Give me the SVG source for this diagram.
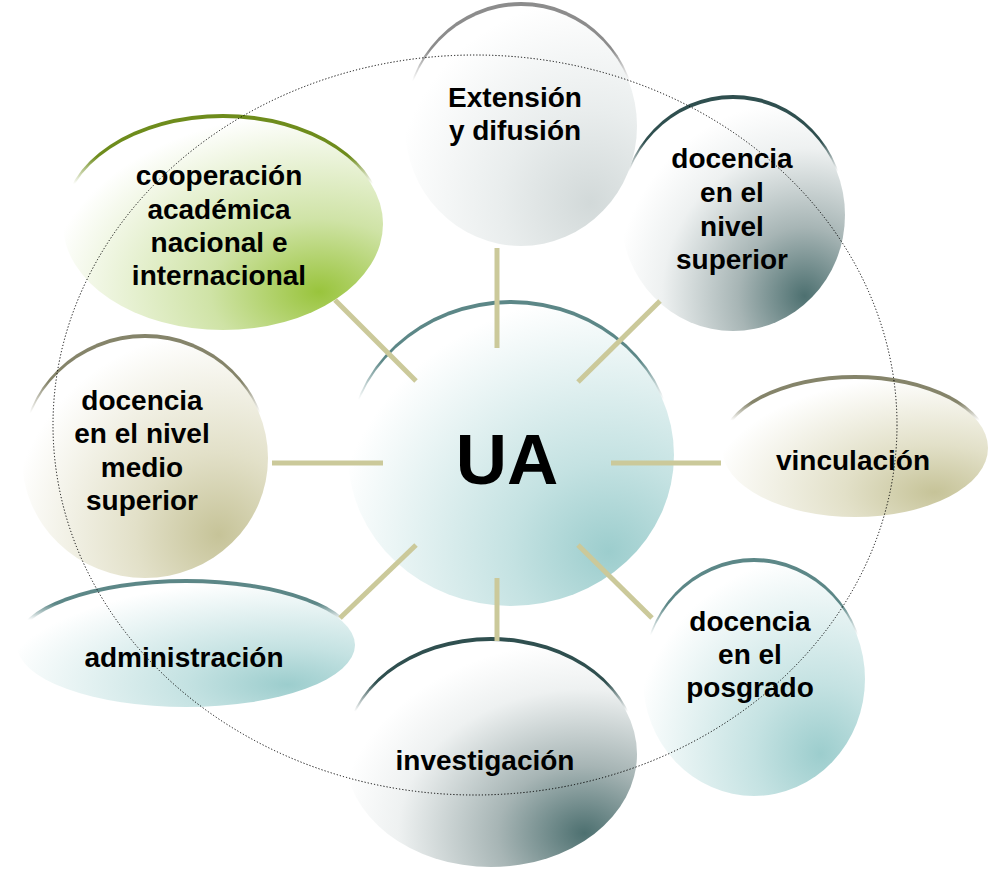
<svg xmlns="http://www.w3.org/2000/svg" width="1002" height="869" viewBox="0 0 1002 869">
<style>
.t{font-family:"Liberation Sans",Arial,sans-serif;font-weight:bold;font-size:28px;fill:#000;text-anchor:middle}
.ua{font-size:71px}
.spoke{stroke:#cbc99a;stroke-width:5;fill:none}
.ring{fill:none;stroke:#000;stroke-width:1;stroke-dasharray:1.2 2}
</style>
<defs>
<radialGradient id="gTeal" cx="0.8" cy="0.82" r="0.85">
<stop offset="0" stop-color="#9ccdcd"/><stop offset="0.35" stop-color="#c4e2e2"/><stop offset="1" stop-color="#ffffff"/>
</radialGradient>
<radialGradient id="gDark" cx="0.82" cy="0.85" r="0.85">
<stop offset="0" stop-color="#4d7070"/><stop offset="0.35" stop-color="#a7b5b5"/><stop offset="0.75" stop-color="#eef1f1"/><stop offset="1" stop-color="#ffffff"/>
</radialGradient>
<radialGradient id="gGreen" cx="0.8" cy="0.82" r="0.85">
<stop offset="0" stop-color="#99c43c"/><stop offset="0.4" stop-color="#cfe3a6"/><stop offset="1" stop-color="#ffffff"/>
</radialGradient>
<radialGradient id="gKhaki" cx="0.8" cy="0.82" r="0.85">
<stop offset="0" stop-color="#c6c398"/><stop offset="0.4" stop-color="#e2e0c8"/><stop offset="1" stop-color="#ffffff"/>
</radialGradient>
<radialGradient id="gGray" cx="0.8" cy="0.82" r="0.85">
<stop offset="0" stop-color="#d2d9d9"/><stop offset="0.45" stop-color="#e9eded"/><stop offset="1" stop-color="#ffffff"/>
</radialGradient>
<linearGradient id="sTeal" x1="0" y1="0" x2="0" y2="1"><stop offset="0" stop-color="#5c8787"/><stop offset="0.2" stop-color="#5c8787"/><stop offset="0.33" stop-color="#5c8787" stop-opacity="0"/></linearGradient>
<linearGradient id="sDark" x1="0" y1="0" x2="0" y2="1"><stop offset="0" stop-color="#2f4f4f"/><stop offset="0.2" stop-color="#2f4f4f"/><stop offset="0.33" stop-color="#2f4f4f" stop-opacity="0"/></linearGradient>
<linearGradient id="sGreen" x1="0" y1="0" x2="0" y2="1"><stop offset="0" stop-color="#6e8c1c"/><stop offset="0.2" stop-color="#6e8c1c"/><stop offset="0.33" stop-color="#6e8c1c" stop-opacity="0"/></linearGradient>
<linearGradient id="sKhaki" x1="0" y1="0" x2="0" y2="1"><stop offset="0" stop-color="#85846a"/><stop offset="0.2" stop-color="#85846a"/><stop offset="0.33" stop-color="#85846a" stop-opacity="0"/></linearGradient>
<linearGradient id="sGray" x1="0" y1="0" x2="0" y2="1"><stop offset="0" stop-color="#8c8c8c"/><stop offset="0.2" stop-color="#8c8c8c"/><stop offset="0.33" stop-color="#8c8c8c" stop-opacity="0"/></linearGradient>
</defs>
<rect width="1002" height="869" fill="#ffffff"/>

<g id="node-ua">
<ellipse cx="511" cy="451" rx="163" ry="151" fill="url(#sTeal)"/>
<ellipse cx="511" cy="455" rx="163" ry="151" fill="url(#gTeal)"/>
<text class="t ua" x="507" y="484">UA</text>
</g>

<g id="node-superior">
<ellipse cx="733" cy="211" rx="112" ry="116" fill="url(#sDark)"/>
<ellipse cx="733" cy="215" rx="112" ry="116" fill="url(#gDark)"/>
<text class="t" x="732" y="168">docencia</text>
<text class="t" x="732" y="202">en el</text>
<text class="t" x="732" y="236">nivel</text>
<text class="t" x="732" y="269">superior</text>
</g>

<g id="node-extension">
<ellipse cx="521" cy="122" rx="116" ry="120" fill="url(#sGray)"/>
<ellipse cx="521" cy="126" rx="116" ry="120" fill="url(#gGray)"/>
<text class="t" x="515" y="107">Extensión</text>
<text class="t" x="515" y="140">y difusión</text>
</g>

<g id="node-cooperacion">
<ellipse cx="223" cy="220" rx="160" ry="106" fill="url(#sGreen)"/>
<ellipse cx="223" cy="224" rx="160" ry="106" fill="url(#gGreen)"/>
<text class="t" x="219" y="185">cooperación</text>
<text class="t" x="219" y="219">académica</text>
<text class="t" x="219" y="252">nacional e</text>
<text class="t" x="219" y="285">internacional</text>
</g>

<g id="node-vinculacion">
<ellipse cx="855" cy="444" rx="133" ry="69" fill="url(#sKhaki)"/>
<ellipse cx="855" cy="448" rx="133" ry="69" fill="url(#gKhaki)"/>
<text class="t" x="853" y="470">vinculación</text>
</g>

<g id="node-medio">
<ellipse cx="145" cy="454" rx="123" ry="120" fill="url(#sKhaki)"/>
<ellipse cx="145" cy="458" rx="123" ry="120" fill="url(#gKhaki)"/>
<text class="t" x="142" y="410">docencia</text>
<text class="t" x="142" y="443">en el nivel</text>
<text class="t" x="142" y="477">medio</text>
<text class="t" x="142" y="510">superior</text>
</g>

<g id="node-administracion">
<ellipse cx="186" cy="641" rx="169" ry="62" fill="url(#sTeal)"/>
<ellipse cx="186" cy="645" rx="169" ry="62" fill="url(#gTeal)"/>
<text class="t" x="184" y="667">administración</text>
</g>

<g id="node-investigacion">
<ellipse cx="491" cy="750" rx="146" ry="113" fill="url(#sDark)"/>
<ellipse cx="491" cy="754" rx="146" ry="113" fill="url(#gDark)"/>
<text class="t" x="485" y="770">investigación</text>
</g>

<g id="node-posgrado">
<ellipse cx="754" cy="675" rx="111" ry="117" fill="url(#sTeal)"/>
<ellipse cx="754" cy="679" rx="111" ry="117" fill="url(#gTeal)"/>
<text class="t" x="750" y="631">docencia</text>
<text class="t" x="750" y="664">en el</text>
<text class="t" x="750" y="697">posgrado</text>
</g>

<g id="connectors">
<line class="spoke" x1="497" y1="248" x2="497" y2="348"/>
<line class="spoke" x1="497" y1="578" x2="497" y2="641"/>
<line class="spoke" x1="272" y1="463" x2="383" y2="463"/>
<line class="spoke" x1="611" y1="463" x2="721" y2="463"/>
<line class="spoke" x1="335" y1="300" x2="416" y2="381"/>
<line class="spoke" x1="578" y1="382" x2="660" y2="301"/>
<line class="spoke" x1="416" y1="545" x2="340" y2="618"/>
<line class="spoke" x1="578" y1="545" x2="652" y2="618"/>
</g>

<ellipse class="ring" cx="475" cy="425" rx="422" ry="370"/>
</svg>
